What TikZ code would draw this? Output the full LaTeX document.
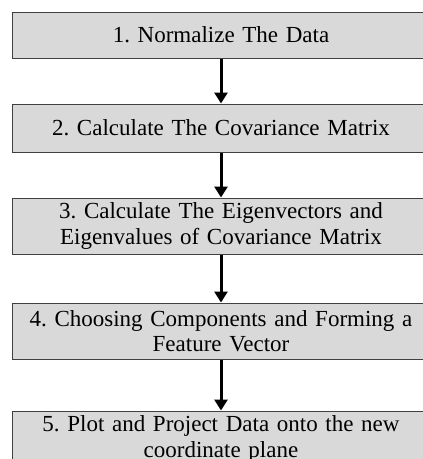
\documentclass[tikz,border=0pt]{standalone}
\usepackage{fontspec}
\setmainfont{Liberation Serif}
\usepackage{tikz}
\usetikzlibrary{arrows.meta, positioning}
\frenchspacing

\begin{document}
\begin{tikzpicture}[
    x=1pt, y=1pt,
    font=\fontsize{23}{25.5}\selectfont,
    stage/.style={draw=black!75, line width=1pt, fill=black!15, minimum width=418pt,
        minimum height=46pt, align=center, text width=395pt, inner sep=0pt},
    arrow/.style={-{Triangle[length=11pt, width=13pt]}, line width=3pt, draw=black}
]
\useasboundingbox (0,0) rectangle (423,-459);
\clip (0,0) rectangle (423,-459);
\node[stage] (normalize) at (221,-35) {1. Normalize The Data};
\node[stage, minimum height=48pt] (covariance) at (221,-128) {2. Calculate The Covariance Matrix};
\node[stage, minimum height=56pt] (eigen) at (221,-226) {3. Calculate The Eigenvectors and\\ Eigenvalues of Covariance Matrix};
\node[stage, minimum height=56pt] (components) at (221,-331) {4. Choosing Components and Forming a\\ Feature Vector};
\node[stage, minimum height=56pt] (project) at (221,-439) {5. Plot and Project Data onto the new\\ coordinate plane};
\draw[arrow] (normalize.south) -- (covariance.north);
\draw[arrow] (covariance.south) -- (eigen.north);
\draw[arrow] (eigen.south) -- (components.north);
\draw[arrow] (components.south) -- (project.north);
\end{tikzpicture}
\end{document}
